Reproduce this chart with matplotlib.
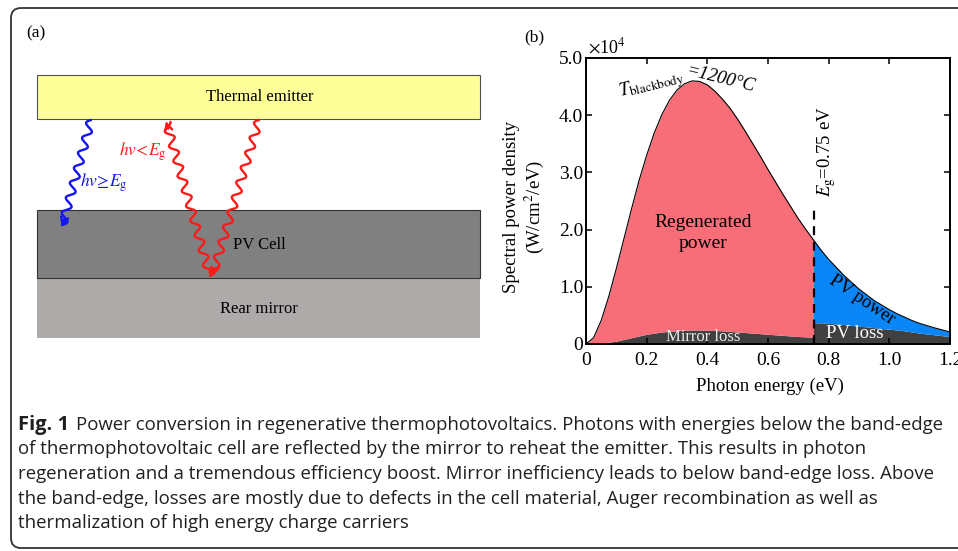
import numpy as np
import matplotlib
matplotlib.use('Agg')
import matplotlib.pyplot as plt
from matplotlib.patches import Rectangle, FancyBboxPatch

plt.rcParams['font.family'] = 'Liberation Serif'
plt.rcParams['mathtext.fontset'] = 'stix'

# ===== DATA (spectral power in units of 1e4 W/cm^2/eV) =====
energy = [0.000, 0.025, 0.050, 0.075, 0.100, 0.125, 0.150, 0.175, 0.200, 0.225,
          0.250, 0.275, 0.300, 0.325, 0.350, 0.375, 0.400, 0.425, 0.450, 0.475,
          0.500, 0.525, 0.550, 0.575, 0.600, 0.625, 0.650, 0.675, 0.700, 0.725,
          0.750, 0.775, 0.800, 0.825, 0.850, 0.875, 0.900, 0.925, 0.950, 0.975,
          1.000, 1.025, 1.050, 1.075, 1.100, 1.125, 1.150, 1.175, 1.200]
blackbody = [0.00, 0.11, 0.41, 0.83, 1.32, 1.84, 2.36, 2.86, 3.30, 3.69,
             4.01, 4.26, 4.44, 4.55, 4.60, 4.59, 4.53, 4.42, 4.28, 4.12,
             3.93, 3.72, 3.50, 3.28, 3.05, 2.83, 2.61, 2.40, 2.19, 2.00,
             1.82, 1.64, 1.48, 1.34, 1.20, 1.08, 0.96, 0.86, 0.76, 0.68,
             0.60, 0.53, 0.47, 0.41, 0.36, 0.32, 0.28, 0.245, 0.21]
# below band edge (0 - 0.75 eV)
mirror_loss = [0.000, 0.005, 0.015, 0.030, 0.050, 0.080, 0.110, 0.140, 0.170, 0.190,
               0.210, 0.220, 0.230, 0.240, 0.245, 0.245, 0.240, 0.235, 0.230, 0.220,
               0.210, 0.200, 0.190, 0.180, 0.170, 0.160, 0.150, 0.140, 0.130, 0.125,
               0.120]
# above band edge (0.75 - 1.2 eV)
pv_loss = [0.370, 0.370, 0.360, 0.350, 0.340, 0.325, 0.310, 0.300, 0.285, 0.270,
           0.260, 0.245, 0.230, 0.210, 0.190, 0.175, 0.160, 0.145, 0.130]
band_gap = 0.75

x_ticks = [0, 0.2, 0.4, 0.6, 0.8, 1.0, 1.2]
x_ticklabels = ['0', '0.2', '0.4', '0.6', '0.8', '1.0', '1.2']
y_ticks = [0, 1, 2, 3, 4, 5]
y_ticklabels = ['0', '1.0', '2.0', '3.0', '4.0', '5.0']

caption_lines = [
    "Power conversion in regenerative thermophotovoltaics. Photons with energies below the band-edge",
    "of thermophotovoltaic cell are reflected by the mirror to reheat the emitter. This results in photon",
    "regeneration and a tremendous efficiency boost. Mirror inefficiency leads to below band-edge loss. Above",
    "the band-edge, losses are mostly due to defects in the cell material, Auger recombination as well as",
    "thermalization of high energy charge carriers",
]

PINK = '#F76E78'
BLUE = '#0A86F7'
DARK = '#404040'

W, H = 958, 551


def wavy(ax, x0, y0, x1, y1, color, amp=4.0, wl=15.5):
    """Draw a wavy photon line from (x0, y0) to (x1, y1) with an arrow head at the end"""
    L = np.hypot(x1 - x0, y1 - y0)
    ux, uy = (x1 - x0) / L, (y1 - y0) / L
    nx, ny = -uy, ux
    t = np.linspace(0, L - 2, 400)
    off = amp * np.sin(2 * np.pi * t / wl)
    xs = x0 + ux * t + nx * off
    ys = y0 + uy * t + ny * off
    ax.plot(xs, ys, color=color, lw=1.7, solid_capstyle='round')
    ax.annotate('', xy=(x1, y1), xytext=(x1 - 8 * ux, y1 - 8 * uy),
                arrowprops=dict(arrowstyle='->', color=color, lw=1.7,
                                mutation_scale=13, shrinkA=0, shrinkB=0))


def main():
    fig = plt.figure(figsize=(W / 100, H / 100), dpi=100)
    bg = fig.add_axes([0, 0, 1, 1])
    bg.set_xlim(0, W)
    bg.set_ylim(H, 0)
    bg.axis('off')

    # outer rounded frame
    bg.add_patch(FancyBboxPatch((11, 8), 980, 540, boxstyle='round,pad=0,rounding_size=10',
                                fc='none', ec='#333333', lw=1.3))

    # ----- panel (a): schematic -----
    bg.text(26, 33, '(a)', fontsize=12.5, va='center')
    bg.add_patch(Rectangle((37, 75), 443, 44, fc='#FFFF99', ec='#505050', lw=0.8))
    bg.add_patch(Rectangle((37, 278), 443, 60, fc='#AEAAAA', ec='none'))
    bg.add_patch(Rectangle((37, 210), 443, 68, fc='#808080', ec='#333333', lw=0.8))
    bg.text(260, 97, 'Thermal emitter', fontsize=12, ha='center', va='center')
    bg.text(259, 245, 'PV Cell', fontsize=12, ha='center', va='center')
    bg.text(259, 309, 'Rear mirror', fontsize=12, ha='center', va='center')

    wavy(bg, 91, 120, 62, 227, '#1414F0')
    wavy(bg, 210, 276, 166, 121, '#FF1A1A')
    wavy(bg, 259, 120, 212, 277, '#FF1A1A')
    bg.text(104, 183, r'$hv\!\geq\! E_{\rm g}$', color='#1414F0', fontsize=12.5,
            ha='center', va='center')
    bg.text(143, 152, r'$hv\!<\!E_{\rm g}$', color='#FF1A1A', fontsize=12.5,
            ha='center', va='center')

    # ----- panel (b): spectrum -----
    bg.text(524, 37, '(b)', fontsize=12.5, va='center')
    ax = fig.add_axes([586 / W, (H - 344) / H, 364 / W, 286 / H])
    ax.set_facecolor('none')

    e = np.array(energy)
    bb = np.array(blackbody)
    n_gap = energy.index(band_gap)
    e_lo, e_hi = e[:n_gap + 1], e[n_gap:]
    ax.fill_between(e_lo, 0, mirror_loss, color=DARK, lw=0)
    ax.fill_between(e_lo, mirror_loss, bb[:n_gap + 1], color=PINK, lw=0)
    ax.fill_between(e_hi, 0, pv_loss, color=DARK, lw=0)
    ax.fill_between(e_hi, pv_loss, bb[n_gap:], color=BLUE, lw=0)
    ax.plot(e, bb, color='k', lw=0.8)
    ax.plot([band_gap, band_gap], [0, 2.43], color='k', lw=1.6, dashes=(4, 3))

    ax.set_xlim(0, 1.2)
    ax.set_ylim(0, 5.0)
    ax.set_xticks(x_ticks)
    ax.set_xticklabels(x_ticklabels)
    ax.set_yticks(y_ticks)
    ax.set_yticklabels(y_ticklabels)
    ax.tick_params(direction='in', top=True, right=True, length=4, width=1.1,
                   labelsize=14, pad=2)
    ax.tick_params(axis='x', pad=6)
    for sp in ax.spines.values():
        sp.set_linewidth(1.4)

    bg.text(588, 47, r'$\times$10$^4$', fontsize=13, va='center', ha='left')
    bg.text(770, 386, 'Photon energy (eV)', fontsize=13.5, ha='center', va='center')
    bg.text(512, 207, 'Spectral power density', fontsize=13.5, rotation=90,
            ha='center', va='center')
    bg.text(534, 207, r'(W/cm$^2$/eV)', fontsize=13.5, rotation=90, ha='center', va='center')

    # annotations inside the plot, placed in pixel coordinates
    px = bg.transData
    ax.text(652, 85, r'$T_{\rm blackbody}$', transform=px, fontsize=13.5, rotation=14,
            ha='center', va='center')
    ax.text(721, 79, '=1200°C', transform=px, fontsize=13.5, rotation=-14, style='italic',
            ha='center', va='center')
    ax.text(827, 152, r'$E_{\rm g}$=0.75 eV', transform=px, fontsize=13.5, rotation=90,
            ha='center', va='center')
    ax.text(703, 233, 'Regenerated\npower', transform=px, fontsize=14, ha='center',
            va='center', linespacing=1.25)
    ax.text(862, 300, 'PV power', transform=px, fontsize=13.5, rotation=-34,
            ha='center', va='center')
    ax.text(855, 333, 'PV loss', transform=px, fontsize=13.5, color='white',
            ha='center', va='center')
    ax.text(703, 337, 'Mirror loss', transform=px, fontsize=12, color='#ececec',
            ha='center', va='center')

    # ----- caption -----
    cap_y = [425, 449.5, 474, 498.5, 523]
    bg.text(18, cap_y[0], 'Fig. 1', fontsize=14.5, family='Open Sans', weight='bold',
            color='#231f20', va='center')
    for i, line in enumerate(caption_lines):
        x0 = 76 if i == 0 else 18
        bg.text(x0, cap_y[i], line, fontsize=13.4, family='Open Sans', color='#231f20',
                va='center')

    fig.savefig('out.png', dpi=100)


if __name__ == '__main__':
    main()
